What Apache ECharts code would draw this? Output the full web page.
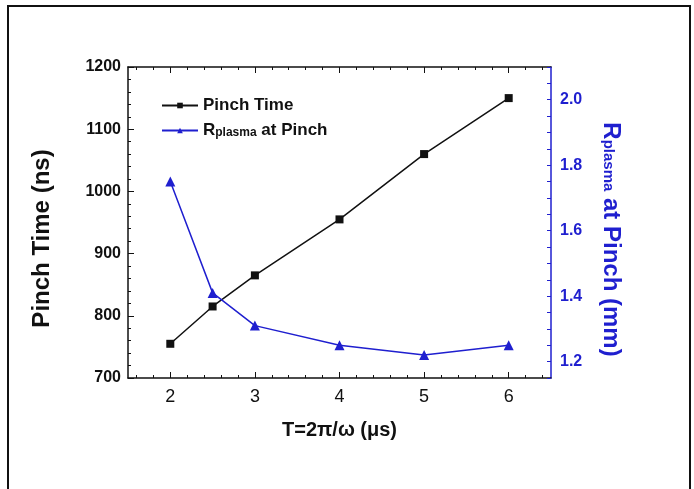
<!DOCTYPE html>
<html>
<head>
<meta charset="utf-8">
<script src="https://cdn.jsdelivr.net/npm/echarts@6/dist/echarts.min.js"></script>
<style>
  html, body { margin: 0; padding: 0; background: #fff; }
  #chart { width: 694px; height: 489px; }
</style>
</head>
<body>
<div id="chart"></div>
<script>
// period T (us)
const periods = [2, 2.5, 3, 4, 5, 6];
// pinch time (ns)
const pinchTime = [755, 815, 865, 955, 1060, 1150];
// plasma radius at pinch (mm)
const rPlasma = [1.75, 1.41, 1.31, 1.25, 1.22, 1.25];

// tick labels
const xLabels = [2, 3, 4, 5, 6];
const xMinor = [1.6, 1.8, 2.2, 2.4, 2.6, 2.8, 3.2, 3.4, 3.6, 3.8, 4.2, 4.4, 4.6, 4.8,
  5.2, 5.4, 5.6, 5.8, 6.2, 6.4];
const leftLabels = [700, 800, 900, 1000, 1100, 1200];
const rightLabels = [1.2, 1.4, 1.6, 1.8, 2.0];

const font = "Liberation Sans, Arial, sans-serif";
const blue = "#1f1fcf";
const ink = "#111";

const chart = echarts.init(document.getElementById("chart"));

const pair = (xs, ys) => xs.map((x, i) => [x, ys[i]]);

// bottom/top x axes share the same range, only ticks differ
const xBase = { type: "value", min: 1.5, max: 6.5, splitLine: { show: false } };

const option = {
  backgroundColor: "#fff",
  animation: false,
  graphic: [
    {
      type: "rect",
      shape: { x: 8, y: 6, width: 682, height: 520 },
      style: { fill: "none", stroke: ink, lineWidth: 2 },
      silent: true,
    },
  ],
  grid: { left: 128, right: 143, top: 67, bottom: 111 },
  legend: {
    orient: "vertical",
    left: 156,
    top: 92,
    itemWidth: 36,
    itemHeight: 7,
    itemGap: 8,
    textStyle: {
      fontFamily: font,
      fontSize: 17,
      fontWeight: "bold",
      color: ink,
      rich: {
        b: { fontFamily: font, fontSize: 17, fontWeight: "bold", color: ink },
        s: { fontFamily: font, fontSize: 12, fontWeight: "bold", color: ink, padding: [4, 0, 0, 0] },
      },
    },
    formatter: (name) =>
      name === "Pinch Time" ? name : "{b|R}{s|plasma}{b| at Pinch}",
    data: ["Pinch Time", "Rplasma at Pinch"],
  },
  xAxis: [
    Object.assign({}, xBase, {
      name: "T=2π/ω (μs)",
      nameLocation: "middle",
      nameGap: 42,
      nameTextStyle: { fontFamily: font, fontSize: 20, fontWeight: "bold", color: ink },
      axisLine: { lineStyle: { color: ink, width: 1.5 } },
      axisTick: { inside: true, length: 6, lineStyle: { color: ink }, customValues: xLabels },
      axisLabel: { fontFamily: font, fontSize: 18, color: ink, margin: 10, customValues: xLabels },
    }),
    Object.assign({}, xBase, {
      position: "bottom",
      axisLine: { show: false },
      axisTick: { show: true, inside: true, length: 3, lineStyle: { color: ink }, customValues: xMinor },
      axisLabel: { show: false },
    }),
    Object.assign({}, xBase, {
      position: "top",
      axisLine: { show: true, lineStyle: { color: ink, width: 1.5 } },
      axisTick: { show: true, inside: true, length: 6, lineStyle: { color: ink }, customValues: xLabels },
      axisLabel: { show: false },
    }),
    Object.assign({}, xBase, {
      position: "top",
      axisLine: { show: false },
      axisTick: { show: true, inside: true, length: 3, lineStyle: { color: ink }, customValues: xMinor },
      axisLabel: { show: false },
    }),
  ],
  yAxis: [
    {
      type: "value",
      min: 700,
      max: 1200,
      interval: 100,
      name: "Pinch Time (ns)",
      nameLocation: "middle",
      nameGap: 74,
      nameRotate: 90,
      nameTextStyle: {
        fontFamily: font, fontSize: 24, fontWeight: "bold", color: ink,
        padding: [0, 32, 0, 0],
      },
      axisLine: { show: true, lineStyle: { color: ink, width: 1.5 } },
      axisTick: { show: true, inside: true, length: 6, lineStyle: { color: ink } },
      minorTick: { show: true, splitNumber: 5, length: 3, lineStyle: { color: ink } },
      axisLabel: {
        fontFamily: font, fontSize: 16, fontWeight: "bold", color: ink, margin: 7,
        customValues: leftLabels,
        formatter: (v) => String(v),
      },
      splitLine: { show: false },
    },
    {
      type: "value",
      position: "right",
      min: 1.15,
      max: 2.1,
      interval: 0.05,
      name: "{b|R}{s|plasma}{b| at Pinch (mm)}",
      nameLocation: "middle",
      nameGap: 48,
      nameRotate: -90,
      nameTextStyle: {
        padding: [0, 0, 0, 34],
        rich: {
          b: { fontFamily: font, fontSize: 24, fontWeight: "bold", color: blue },
          s: { fontFamily: font, fontSize: 15, fontWeight: "bold", color: blue, padding: [6, 0, 0, 0] },
        },
      },
      axisLine: { show: true, lineStyle: { color: blue, width: 1.5 } },
      axisTick: { show: true, inside: true, length: 4, lineStyle: { color: blue } },
      axisLabel: {
        fontFamily: font, fontSize: 16, fontWeight: "bold", color: blue, margin: 9,
        customValues: rightLabels,
        formatter: (v) => v.toFixed(1),
      },
      splitLine: { show: false },
    },
  ],
  series: [
    {
      name: "Pinch Time",
      type: "line",
      xAxisIndex: 0,
      yAxisIndex: 0,
      data: pair(periods, pinchTime),
      symbol: "rect",
      symbolSize: 8,
      itemStyle: { color: ink },
      lineStyle: { color: ink, width: 1.5 },
    },
    {
      name: "Rplasma at Pinch",
      type: "line",
      xAxisIndex: 0,
      yAxisIndex: 1,
      data: pair(periods, rPlasma),
      symbol: "triangle",
      symbolSize: 10,
      itemStyle: { color: blue },
      lineStyle: { color: blue, width: 1.5 },
    },
  ],
};

chart.setOption(option);
</script>
</body>
</html>
